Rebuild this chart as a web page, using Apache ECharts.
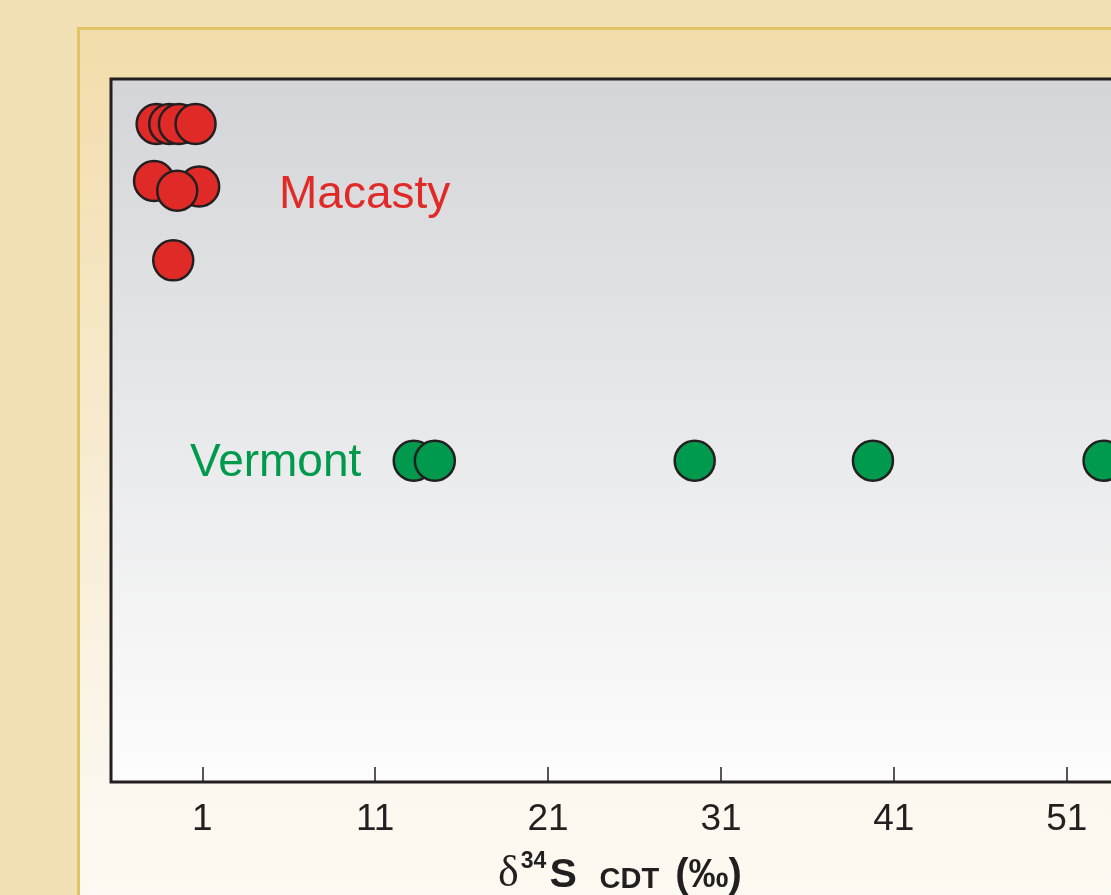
<!DOCTYPE html>
<html>
<head>
<meta charset="utf-8">
<script src="https://cdn.jsdelivr.net/npm/echarts@6/dist/echarts.min.js"></script>
<style>
	html, body { margin: 0; padding: 0; background: #f0e0b4; }
	#chart { width: 1111px; height: 895px; }
</style>
</head>
<body>
<div id="chart"></div>
<script type="text/javascript">

	// delta34S (per mil); y is only a row position (0-100, no axis shown)
	var macastyX = [-1.64, -0.91, -0.35, 0.61, -1.79, 0.82, -0.45, -0.68];
	var macastyY = [93.6, 93.6, 93.6, 93.6, 85.5, 84.7, 84.1, 74.2];
	var vermontX = [13.23, 14.45, 29.48, 39.79, 53.13];
	var vermontY = [45.7, 45.7, 45.7, 45.7, 45.7];
	var tickValues = [1, 11, 21, 31, 41, 51];

	function pairs(xs, ys) {
		var out = [];
		for (var i = 0; i < xs.length; i++) out.push([xs[i], ys[i]]);
		return out;
	}

	var chart = echarts.init(document.getElementById('chart'));
	chart.setOption({
		backgroundColor: '#f0e0b4',
		animation: false,
		graphic: [
			{
				type: 'rect', z: -10, silent: true,
				shape: { x: 78.5, y: 28.5, width: 1100, height: 900 },
				style: {
					fill: new echarts.graphic.LinearGradient(0, 0, 0, 1, [
						{ offset: 0, color: '#f2dcaa' },
						{ offset: 0.85, color: '#fcf8ef' },
						{ offset: 1, color: '#fdfaf3' }
					]),
					stroke: '#e2c464', lineWidth: 3
				}
			},
			{
				type: 'text', z: 10, silent: true,
				style: {
					x: 279, y: 195, text: 'Macasty', fill: '#e02a28',
					font: '46px "Liberation Sans", Arial, sans-serif',
					align: 'left', verticalAlign: 'middle'
				}
			},
			{
				type: 'text', z: 10, silent: true,
				style: {
					x: 190, y: 463, text: 'Vermont', fill: '#009a4e',
					font: '46px "Liberation Sans", Arial, sans-serif',
					align: 'left', verticalAlign: 'middle'
				}
			}
		],
		grid: {
			show: true,
			outerBoundsMode: 'none',
			containLabel: false,
			left: 111, top: 79, right: -18, bottom: 113,
			backgroundColor: new echarts.graphic.LinearGradient(0, 0, 0, 1, [
				{ offset: 0, color: '#d4d5d8' },
				{ offset: 1, color: '#fdfdfd' }
			]),
			borderColor: '#231f20', borderWidth: 3
		},
		xAxis: {
			type: 'value',
			min: -4.28, max: 54.6,
			splitLine: { show: false },
			axisLine: { show: false },
			axisTick: {
				show: true, inside: true, length: 15,
				customValues: tickValues,
				lineStyle: { color: '#231f20', width: 1.5 }
			},
			axisLabel: {
				customValues: tickValues,
				margin: 19,
				color: '#231f20',
				fontSize: 37,
				fontFamily: '"Liberation Sans", Arial, sans-serif'
			},
			name: '{d|δ}{sup|34}{s|S  }{c|CDT  }{p|(‰)}',
			nameLocation: 'middle',
			nameGap: 70,
			nameTextStyle: {
				color: '#231f20',
				fontSize: 40,
				fontWeight: 'bold',
				fontFamily: '"Liberation Sans", Arial, sans-serif',
				rich: {
					d: { fontFamily: '"Liberation Serif", serif', fontWeight: 'normal', fontSize: 44, color: '#231f20', verticalAlign: 'bottom', lineHeight: 44, padding: [0, 2, 0, 0] },
					sup: { fontSize: 23, fontWeight: 'bold', color: '#231f20', verticalAlign: 'bottom', lineHeight: 23, padding: [0, 3, 23, 0] },
					s: { fontSize: 41, fontWeight: 'bold', color: '#231f20', verticalAlign: 'bottom', lineHeight: 41 },
					c: { fontSize: 29, fontWeight: 'bold', color: '#231f20', verticalAlign: 'bottom', lineHeight: 29, padding: [0, 0, 2, 0] },
					p: { fontSize: 40, fontWeight: 'bold', color: '#231f20', verticalAlign: 'bottom', lineHeight: 40 }
				}
			}
		},
		yAxis: {
			type: 'value',
			min: 0, max: 100,
			show: false
		},
		series: [
			{
				name: 'Macasty',
				type: 'scatter',
				symbol: 'circle',
				symbolSize: 40,
				itemStyle: { color: '#e02a28', borderColor: '#231f20', borderWidth: 2.5, opacity: 1 },
				data: pairs(macastyX, macastyY)
			},
			{
				name: 'Vermont',
				type: 'scatter',
				symbol: 'circle',
				symbolSize: 40,
				itemStyle: { color: '#009a4e', borderColor: '#231f20', borderWidth: 2.5, opacity: 1 },
				data: pairs(vermontX, vermontY)
			}
		]
	});

</script>
</body>
</html>
